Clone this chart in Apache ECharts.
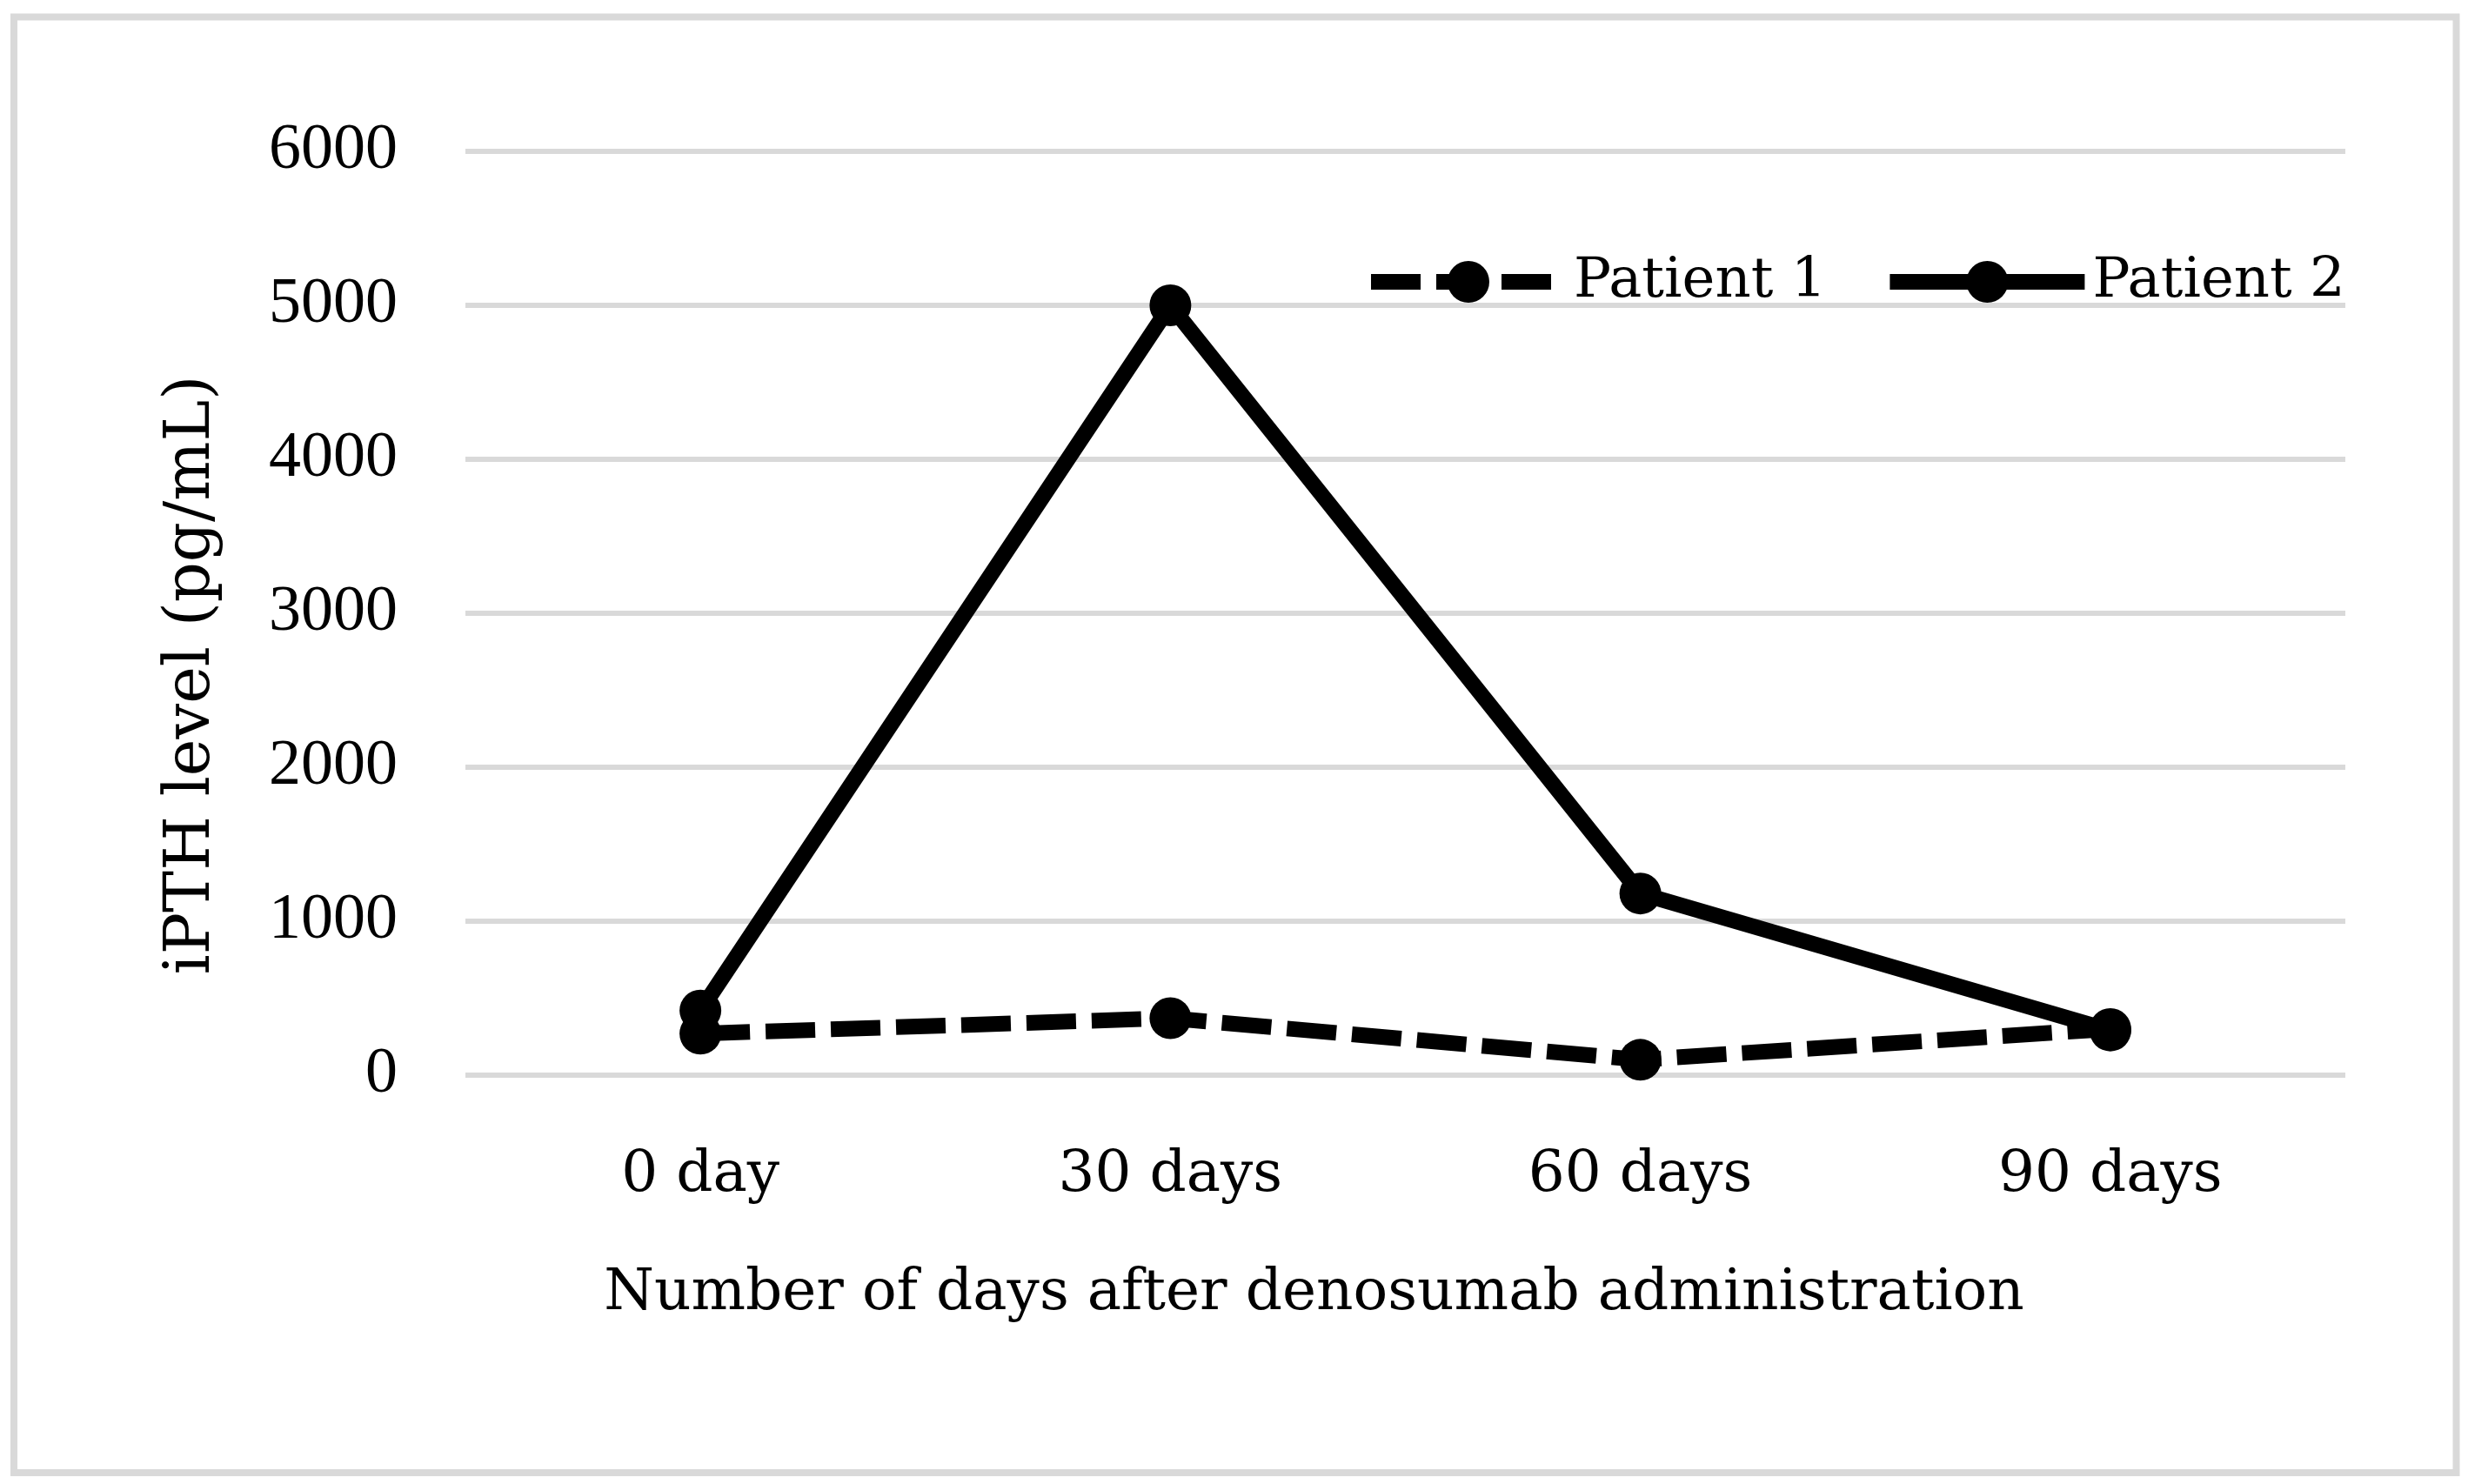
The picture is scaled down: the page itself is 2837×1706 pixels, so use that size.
<!DOCTYPE html>
<html><head><meta charset="utf-8">
<script src="https://cdn.jsdelivr.net/npm/echarts@6/dist/echarts.min.js"></script>
<style>html,body{margin:0;padding:0;background:#fff}#c{width:2837px;height:1706px}</style>
</head><body><div id="c"></div>
<script>
const categories = ['0 day', '30 days', '60 days', '90 days'];
const seriesNames = ['Patient 1', 'Patient 2'];
const patient1 = [270, 370, 100, 300];
const patient2 = [420, 5000, 1180, 290];
const yMin = 0, yMax = 6000, yStep = 1000;

const FONT = 'DejaVu Serif';
const NUMFONT = 'Liberation Serif';
const chart = echarts.init(document.getElementById('c'), null, {renderer: 'canvas'});
chart.setOption({
  backgroundColor: '#ffffff',
  animation: false,
  graphic: [{
    type: 'rect', silent: true,
    shape: {x: 16, y: 19.5, width: 2807.5, height: 1673.5},
    style: {fill: 'none', stroke: '#d9d9d9', lineWidth: 8}
  }],
  grid: {left: 535, right: 141, top: 174, bottom: 470, containLabel: false},
  legend: {
    left: 1567, top: 292, padding: 0,
    itemWidth: 224, itemHeight: 60, itemGap: 64,
    lineStyle: {width: 18},
    textStyle: {fontFamily: FONT, fontSize: 64, color: '#000', padding: [0, 0, 0, 4]},
    data: seriesNames
  },
  xAxis: {
    type: 'category', data: categories, boundaryGap: true,
    axisLine: {show: false}, axisTick: {show: false},
    axisLabel: {fontFamily: FONT, fontSize: 66, color: '#000', margin: 83},
    name: 'Number of days after denosumab administration',
    nameLocation: 'middle', nameGap: 219,
    nameTextStyle: {fontFamily: FONT, fontSize: 66, color: '#000', padding: [0, 210, 0, 0]}
  },
  yAxis: {
    type: 'value', min: yMin, max: yMax, interval: yStep,
    axisLine: {show: false}, axisTick: {show: false},
    splitLine: {lineStyle: {color: '#d9d9d9', width: 6}},
    axisLabel: {fontFamily: NUMFONT, fontSize: 74, color: '#000', margin: 78,
      formatter: function (v) { return String(v); }},
    name: 'iPTH level (pg/mL)', nameLocation: 'middle', nameGap: 278, nameRotate: 90,
    nameTextStyle: {fontFamily: FONT, fontSize: 72, color: '#000', padding: [0, 142, 0, 0]}
  },
  series: [
    {
      name: seriesNames[0], type: 'line', data: patient1,
      symbol: 'circle', symbolSize: 48,
      itemStyle: {color: '#000'},
      lineStyle: {color: '#000', width: 18, type: [57, 18], cap: 'butt'},
      z: 3
    },
    {
      name: seriesNames[1], type: 'line', data: patient2,
      symbol: 'circle', symbolSize: 48,
      itemStyle: {color: '#000'},
      lineStyle: {color: '#000', width: 18, type: 'solid'},
      z: 4
    }
  ]
});
</script></body></html>
